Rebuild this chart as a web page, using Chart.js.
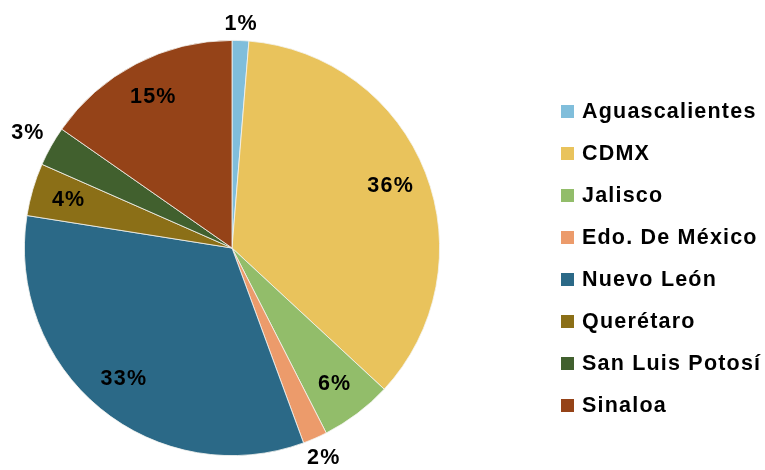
<!DOCTYPE html>
<html>
<head>
<meta charset="utf-8">
<script src="https://cdn.jsdelivr.net/npm/chart.js@4"></script>
<style>
  body { margin: 0; background: #fff; }
  #wrap { position: relative; width: 765px; height: 470px; }
  #legend { position: absolute; left: 561px; top: 91px; font: bold 21.5px "Liberation Sans", Arial, sans-serif; letter-spacing: 1.2px; color: #000; }
  .item { height: 41.9px; display: flex; align-items: center; white-space: nowrap; }
  .box { width: 13px; height: 13px; margin-right: 8px; flex: none; }
</style>
</head>
<body>
<div id="wrap">
  <canvas id="pie-chart" width="765" height="470"></canvas>
  <div id="legend"></div>
</div>
<script>
// estados
var estados = ["Aguascalientes", "CDMX", "Jalisco", "Edo. De México", "Nuevo León", "Querétaro", "San Luis Potosí", "Sinaloa"];
var porcentajes = [1.3, 35.6, 5.6, 1.9, 33.1, 4.1, 3.1, 15.3];
var colores = ["#80bedb", "#e9c35c", "#92bd6a", "#ec9b6b", "#2b6987", "#8b6f17", "#41602e", "#954318"];

// etiquetas de porcentaje (dentro o fuera)
var etiquetas = {
    id: 'etiquetas',
    afterDatasetsDraw: function(chart)
    {
        var ctx = chart.ctx;
        var meta = chart.getDatasetMeta(0);
        var total = porcentajes.reduce(function(a, b) { return a + b; }, 0);
        ctx.save();
        ctx.font = 'bold 21.5px "Liberation Sans", Arial, sans-serif';
        ctx.letterSpacing = '1.2px';
        ctx.fillStyle = '#000';
        ctx.textAlign = 'center';
        ctx.textBaseline = 'middle';
        for (let i = 0; i < meta.data.length; i++)
        {
            var arc = meta.data[i];
            var ang = (arc.startAngle + arc.endAngle) / 2;
            var texto = Math.round(porcentajes[i] / total * 100) + '%';
            var r;
            if (porcentajes[i] < 3.5)
            {
                var w = ctx.measureText(texto).width;
                r = arc.outerRadius + 8 + Math.abs(Math.cos(ang)) * w / 2 + Math.abs(Math.sin(ang)) * 8;
            }
            else
            {
                r = arc.outerRadius * 0.82;
            }
            var x = arc.x + Math.cos(ang) * r;
            var y = arc.y + Math.sin(ang) * r;
            ctx.fillText(texto, x, y);
        }
        ctx.restore();
    }
};

new Chart(document.getElementById("pie-chart"), {
    type: 'pie',
    data: {
        labels: estados,
        datasets: [{
            data: porcentajes,
            backgroundColor: colores,
            borderColor: '#f4f4f0',
            borderWidth: 0.8
        }]
    },
    options: {
        responsive: false,
        animation: false,
        layout: { padding: { left: 23, right: 324, top: 40, bottom: 14 } },
        plugins: {
            legend: { display: false },
            tooltip: { enabled: false }
        }
    },
    plugins: [etiquetas]
});

var legend = document.getElementById("legend");
for (let index = 0; index < estados.length; index++)
{
    var item = document.createElement("div");
    item.className = "item";
    item.innerHTML = '<span class="box" style="background:' + colores[index] + '"></span>' + estados[index];
    legend.appendChild(item);
}
</script>
</body>
</html>
